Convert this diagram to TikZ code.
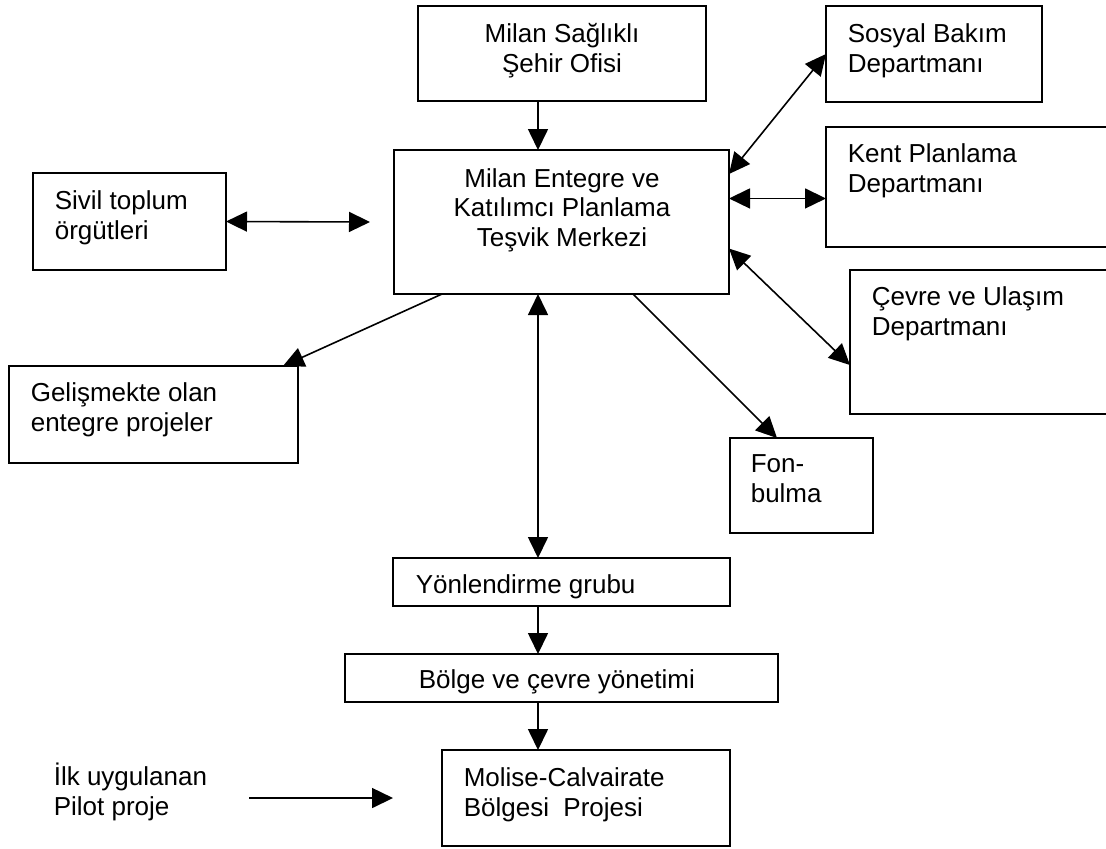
\documentclass[tikz,border=0pt]{standalone}
\usepackage{fontspec}
\setmainfont{Liberation Sans}
\usetikzlibrary{arrows.meta, calc}

\begin{document}
\begin{tikzpicture}[x=0.5pt,y=-0.5pt,>={Triangle[length=10.5pt,width=10pt]},line width=0.8pt,
	kutu/.style={draw, line width=1pt, anchor=north west, inner sep=0pt, outer sep=0pt},
	yazi/.style={font=\fontsize{13}{14.75}\selectfont, align=left, anchor=base west, inner sep=0pt},
	ortayazi/.style={yazi, align=center, anchor=base}]
	
	\useasboundingbox (0,0) rectangle (1106,848);
	
	\node (ofis) [kutu, minimum width=144pt, minimum height=47.5pt] at (418,6) {};
	\node (merkez) [kutu, minimum width=167.5pt, minimum height=72pt] at (394,150) {};
	\node (sosyal) [kutu, minimum width=108pt, minimum height=48pt] at (826,6) {};
	\node (kent) [kutu, minimum width=150pt, minimum height=60pt] at (826,127) {};
	\node (cevre) [kutu, minimum width=140pt, minimum height=72pt] at (850,270) {};
	\node (sivil) [kutu, minimum width=96.5pt, minimum height=48.5pt] at (33,173) {};
	\node (gelis) [kutu, minimum width=144.5pt, minimum height=48.5pt] at (9,366) {};
	\node (fon) [kutu, minimum width=71.5pt, minimum height=47.5pt] at (730,438) {};
	\node (yon) [kutu, minimum width=168.5pt, minimum height=24pt] at (393,558) {};
	\node (bolge) [kutu, minimum width=216.5pt, minimum height=24pt] at (345,654) {};
	\node (molise) [kutu, minimum width=144pt, minimum height=48pt] at (442,750) {};
	
	% base = last line of the text
	\node (ofis-t) [ortayazi] at (562,72) {Milan Sağlıklı\\Şehir Ofisi};
	\node (merkez-t) [ortayazi] at (562,246) {Milan Entegre ve\\Katılımcı Planlama\\Teşvik Merkezi};
	\node (sosyal-t) [yazi] at (847,72) {Sosyal Bakım\\Departmanı};
	\node (kent-t) [yazi] at (847,192) {Kent Planlama\\Departmanı};
	\node (cevre-t) [yazi] at (871,335) {Çevre ve Ulaşım\\Departmanı};
	\node (sivil-t) [yazi] at (54,239) {Sivil toplum\\örgütleri};
	\node (gelis-t) [yazi] at (30,431) {Gelişmekte olan\\entegre projeler};
	\node (fon-t) [yazi] at (750,502) {Fon-\\bulma};
	\node (yon-t) [yazi] at (415,593) {Yönlendirme grubu};
	\node (bolge-t) [yazi] at (418,688) {Bölge ve çevre yönetimi};
	\node (molise-t) [yazi] at (463,816) {Molise-Calvairate\\Bölgesi\ \ Projesi};
	\node (pilot) [yazi] at (53,815) {İlk uygulanan\\Pilot proje};
	
	\coordinate (eksen) at (538,0);
	\coordinate (sivil-uc) at (370,222);
	\coordinate (pilot-bas) at (249,798);
	\coordinate (pilot-son) at (393,798);
	
	\path [->]
	(ofis.south -| eksen) edge (merkez.north -| eksen)
	(yon.south -| eksen) edge (bolge.north -| eksen)
	(bolge.south -| eksen) edge (molise.north -| eksen)
	($(merkez.south)+(-119.5,0)$) edge ($(gelis.north east)+(-15,0)$)
	($(merkez.south)+(71.5,0)$) edge ($(fon.north west)+(47,0)$)
	(pilot-bas) edge (pilot-son);
	
	\path [<->]
	(merkez.south -| eksen) edge (yon.north -| eksen)
	(sivil.east) edge (sivil-uc)
	(merkez.16.6) edge (sosyal.west)
	(merkez.8.15) edge (merkez.8.15 -| kent.west)
	(merkez.351.5) edge ($(cevre.north west)!0.66!(cevre.south west)$);
\end{tikzpicture}
\end{document}
